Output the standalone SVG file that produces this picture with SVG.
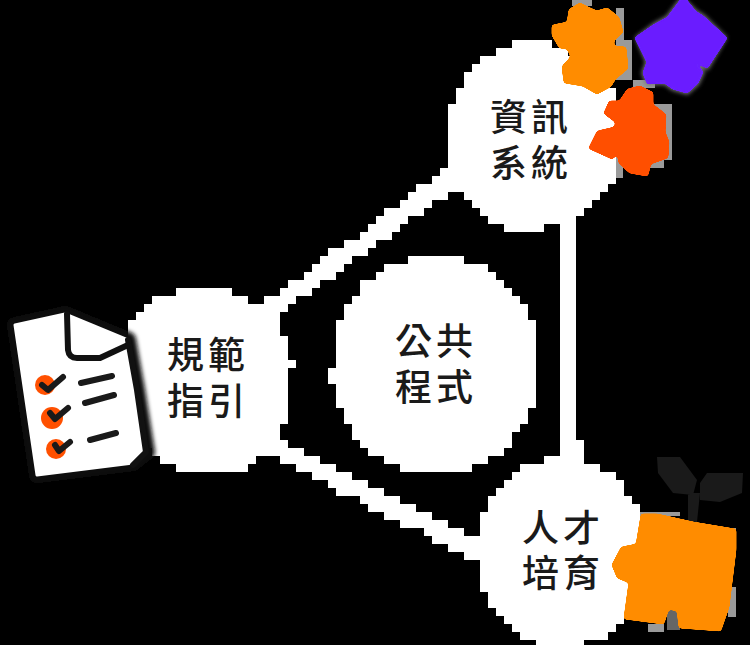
<svg xmlns="http://www.w3.org/2000/svg" width="750" height="645" viewBox="0 0 750 645">
<style>
.w{fill:#fff;shape-rendering:crispEdges}
.t{font-family:"Noto Sans CJK TC","Noto Sans CJK SC",sans-serif;font-size:37px;font-weight:500;letter-spacing:4px;fill:#1a1a1a}
.g{fill:#9a9a9a;shape-rendering:crispEdges}
.o{fill:#ff8c00;stroke:#ff8c00;stroke-width:3;stroke-linejoin:round;filter:url(#smooth)}
.r{fill:#ff5000;stroke:#ff5000;stroke-width:3;stroke-linejoin:round;filter:url(#smooth)}
.p{fill:#6a1fff;stroke:#6a1fff;stroke-width:3;stroke-linejoin:round;filter:url(#smooth)}
.k{fill:none;stroke:#1a1a1a;stroke-width:6;stroke-linecap:round;stroke-linejoin:round}
.b{fill:none;stroke:#111;stroke-width:6;stroke-linecap:round;stroke-linejoin:round}
</style>
<defs>
<filter id="blur" x="-20%" y="-20%" width="140%" height="140%"><feGaussianBlur stdDeviation="2"/></filter>
<filter id="smooth" x="-10%" y="-10%" width="120%" height="120%"><feGaussianBlur stdDeviation="1.4"/><feComponentTransfer><feFuncA type="linear" slope="10" intercept="-4.5"/></feComponentTransfer></filter>
</defs>
<rect width="750" height="645" fill="#000"/>
<g id="connectors">
<path class="w" d="M448 160H500V192H448V200H432V208H424V216H408V224H400V232H392V240H376V248H368V256H352V264H344V272H336V280H320V288H312V296H296V304H288V312H264V296H280V288H288V280H304V272H312V264H320V256H328V248H344V240H360V232H368V224H376V216H384V208H400V200H408V192H416V184H432V176H440V168H448Z"/>
<path class="w" d="M270 440H288V448H304V456H320V464H336V472H352V480H368V488H384V496H400V504H416V512H432V520H448V528H464V536H500V560H464V552H448V544H432V536H424V528H400V520H384V512H368V504H360V496H336V488H328V480H312V472H296V464H280V456H270Z"/>
<path class="w" d="M560 216H576V440H584V464H560Z"/>
</g>
<g id="node-info">
<path class="w" d="M512 40H552V48H568V56H584V64H592V72H600V88H616V184H608V192H600V200H592V208H584V216H576V224H544V232H504V224H488V216H480V208H472V200H464V192H448V104H456V88H464V72H472V64H480V56H496V48H512Z"/>
<path class="g" d="M572 0h20v6h-20zM616 8h8v32h-8zM616 40h16v40h-16zM633 80h22v8h-22zM653 104h19v30h-19zM664 134h8v26h-8zM616 154h7v24h-7zM648 160h16v8h-16z"/>
<polygon points="683,0 695,12 703,17 724,38 707,67 690,59 702,72 697,83 687,92 673,88 665,82 648,83 644,73 648,62 638,38 655,25 668,18 680,2" fill="#777" stroke="#777" stroke-width="5" filter="url(#blur)"/>
<polygon class="p" points="683,-3 695,12 703,17 726,38 707,67 690,59 702,72 697,83 687,92 673,88 665,82 648,83 644,73 648,62 636,38 655,25 668,18 680,2"/>
<polygon class="o" points="570,10 580,4 588,8 597,12 607,9 618,18 622,32 613,40 613,47 625,48 627,68 615,78 610,86 597,93 583,85 565,82 563,67 572,57 568,48 560,47 553,35 553,26 568,23"/>
<polygon class="r" points="640,87 652,93 652,105 665,115 664,132 668,142 667,157 650,163 647,175 630,172 620,163 618,152 612,158 590,148 598,132 615,128 617,122 605,113 610,102 620,102 628,90"/>
<text class="t"><tspan x="490" y="131">資訊</tspan><tspan x="490" y="177">系統</tspan></text>
</g>
<g id="node-guide">
<path class="w" d="M176 288H232V296H248V304H288V312H280V336H288V360H296V368H288V424H280V440H288V448H304V456H256V464H248V472H176V464H160V456H152V448H128V320H136V312H144V304H152V296H176Z"/>
<path d="M15 325L65 314L128 340L137 390L147 452L133 463L37 475Z" fill="#111" stroke="#111" stroke-width="16" stroke-linejoin="round" filter="url(#blur)"/>
<path d="M15 325L65 314L128 340L137 390L146 452L133 463L37 475Z" fill="#fff" stroke="#fff" stroke-width="3" stroke-linejoin="round"/>
<path class="b" d="M128 340L137 390L146 452L133 465"/>
<path class="b" d="M67 314L68 350Q69 358 77 358L100 358L128 345"/>
<circle cx="45" cy="385" r="10" fill="#ff5000"/>
<circle cx="52" cy="418" r="11" fill="#ff5000"/>
<circle cx="56" cy="449" r="10" fill="#ff5000"/>
<path class="k" d="M42 385L48 390L63 377M50 413L55 419L68 408M55 445L59 451L70 442M81 383L112 376M85 403L114 395M90 440L116 433"/>
<text class="t"><tspan x="167" y="369">規範</tspan><tspan x="167" y="415">指引</tspan></text>
</g>
<g id="node-public">
<path class="w" d="M408 256H464V264H488V272H496V280H504V288H512V296H520V304H528V320H536V408H528V424H520V432H512V448H504V456H488V464H472V472H400V464H384V456H368V448H360V440H352V424H344V408H336V384H328V368H336V320H344V304H352V296H360V280H376V272H384V264H408Z"/>
<text class="t"><tspan x="395" y="355">公共</tspan><tspan x="395" y="401">程式</tspan></text>
</g>
<g id="node-talent">
<path class="w" d="M544 456H584V464H600V472H616V480H624V496H632V504H640V616H624V624H616V632H608V640H584V645H536V640H520V632H512V624H504V616H496V608H488V592H480V512H488V496H496V488H504V480H512V472H520V464H544Z"/>
<path class="g" d="M640 512h40v4h-40zM720 528h16v8h-16zM728 587h8v30h-8zM648 624h16v8h-16z"/>
<rect x="667" y="606" width="13" height="24" fill="#666"/>
<path d="M657 457L680 457L697 480L693 495L673 493L658 473ZM700 483L707 473L743 473L742 493L720 502L700 500ZM688 493L700 493L697 522L688 523Z" fill="#1a1a1a"/>
<polygon class="o" points="642,515 657,515 693,523 735,530 735,550 728,607 720,630 680,627 678,610 668,608 663,623 625,618 630,582 618,577 613,565 622,548 637,545"/>
<text class="t"><tspan x="522" y="542">人才</tspan><tspan x="522" y="587">培育</tspan></text>
</g>
</svg>
